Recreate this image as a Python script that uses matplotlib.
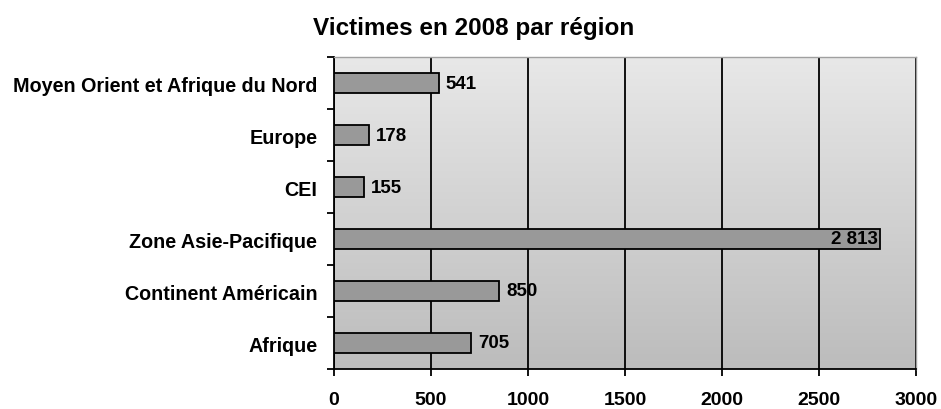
import matplotlib
matplotlib.use("Agg")
import matplotlib.pyplot as plt
import numpy as np
from matplotlib.colors import LinearSegmentedColormap

categories = ["Afrique", "Continent Américain", "Zone Asie-Pacifique", "CEI", "Europe",
              "Moyen Orient et Afrique du Nord"]
values = [705, 850, 2813, 155, 178, 541]
xticks = [0, 500, 1000, 1500, 2000, 2500, 3000]
title = "Victimes en 2008 par région"

plt.rcParams['font.family'] = ['Liberation Sans', 'DejaVu Sans']
plt.rcParams['font.weight'] = 'bold'

fig = plt.figure(figsize=(9.41, 4.10), dpi=100)
W, H = 941, 410
ax = fig.add_axes([334 / W, 1 - 370 / H, (916 - 334) / W, (370 - 58) / H])

# gradient background
cmap = LinearSegmentedColormap.from_list("bg", ["#e8e8e8", "#bcbcbc"])
grad = np.linspace(0, 1, 256).reshape(-1, 1)
ax.imshow(grad, cmap=cmap, aspect='auto', extent=[0, 3000, -0.5, len(categories) - 0.5],
          origin='upper', zorder=0)

y = np.arange(len(categories))
ax.barh(y, values, height=0.4, color="#999999", edgecolor="black", linewidth=1.3, zorder=3)

for yi, v in zip(y, values):
    txt = f"{v:,}".replace(",", " ")
    if v > 2500:
        ax.text(v - 12, yi, txt, ha='right', va='center', fontsize=13.5, fontweight='bold', zorder=4)
    else:
        ax.text(v + 36, yi, txt, ha='left', va='center', fontsize=13.5, fontweight='bold', zorder=4)

ax.set_xlim(0, 3000)
ax.set_ylim(-0.5, len(categories) - 0.5)
ax.set_xticks(xticks)
ax.set_xticklabels([str(t) for t in xticks], fontsize=14, fontweight='bold')
ax.xaxis.grid(True, color='black', linewidth=1.3, zorder=1)
ax.set_axisbelow(True)

ax.set_yticks(y)
ax.set_yticklabels(categories, fontsize=14.2, fontweight='bold')
ax.tick_params(axis='y', length=0, pad=12)
ax.set_yticks(np.arange(-0.5, len(categories), 1), minor=True)
ax.tick_params(axis='y', which='minor', length=5, width=1.3, direction='out')
ax.tick_params(axis='x', length=5, width=1.3, direction='out', pad=11)

for s in ['left', 'bottom']:
    ax.spines[s].set_linewidth(1.3)
    ax.spines[s].set_color('black')
for s in ['top', 'right']:
    ax.spines[s].set_color('#a0a0a0')
    ax.spines[s].set_linewidth(1.0)

fig.text(474 / W, 1 - 35 / H, title, ha='center', va='baseline', fontsize=17.5, fontweight='bold')

fig.savefig("out.png", dpi=100)
